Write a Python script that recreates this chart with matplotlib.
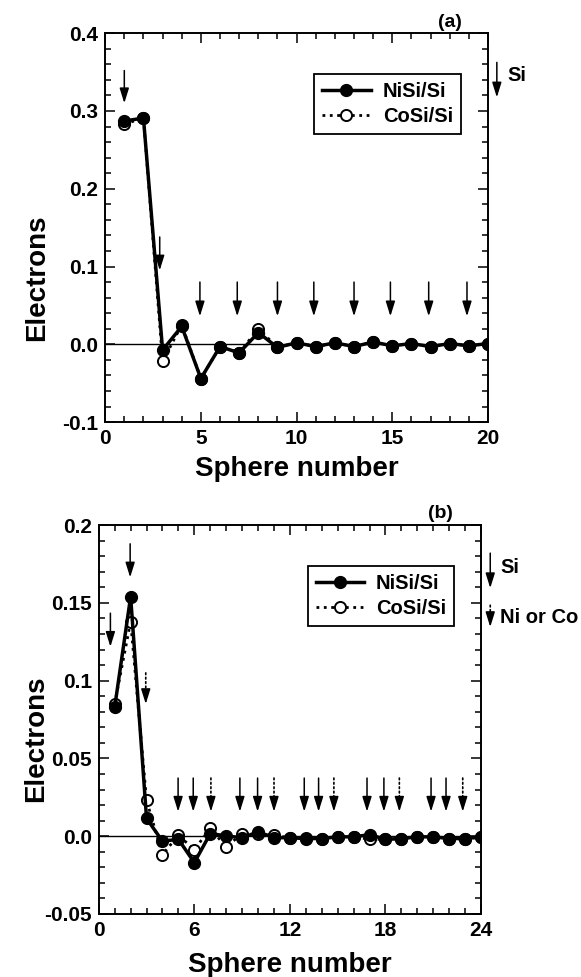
# Перераспределение заряда по сферам: NiSi/Si и CoSi/Si
# Две панели (a) и (b), сохраняется в out.png

import matplotlib
matplotlib.use("Agg")
import matplotlib.pyplot as plt
from matplotlib.ticker import MultipleLocator, FuncFormatter

plt.rcParams["font.family"] = ["Liberation Sans", "DejaVu Sans"]
plt.rcParams["font.weight"] = "bold"
plt.rcParams["axes.labelweight"] = "bold"

# ---------- данные, панель (a) ----------
sphere_a = list(range(1, 21))
nisi_a = [0.287, 0.291, -0.0074, 0.023, -0.044, -0.003, -0.011, 0.015, -0.004, 0.002,
          -0.003, 0.002, -0.003, 0.003, -0.002, 0.001, -0.003, 0.001, -0.002, 0.001]
cosi_a = [0.283, 0.291, -0.022, 0.025, -0.044, -0.003, -0.011, 0.020, -0.004, 0.002,
          -0.003, 0.002, -0.003, 0.003, -0.002, 0.001, -0.003, 0.001, -0.002, 0.001]

# стрелки Si (панель a)
arrow_a_x = [1.0, 2.85, 4.95, 6.9, 9.0, 10.9, 13.0, 14.9, 16.9, 18.9]
arrow_a_top = [0.352, 0.138, 0.080, 0.080, 0.080, 0.080, 0.080, 0.080, 0.080, 0.080]
arrow_a_bot = [0.310, 0.095, 0.036, 0.036, 0.036, 0.036, 0.036, 0.036, 0.036, 0.036]

# ---------- данные, панель (b) ----------
sphere_b = list(range(1, 25))
nisi_b = [0.083, 0.154, 0.0114, -0.0032, -0.002, -0.017, 0.0017, 0.0002, -0.001, 0.0028,
          -0.0009, -0.001, -0.0015, -0.0015, -0.0004, -0.0004, 0.001, -0.002, -0.0015,
          -0.0004, -0.0004, -0.0015, -0.0015, -0.0004]
cosi_b = [0.085, 0.138, 0.023, -0.0118, 0.0006, -0.0086, 0.005, -0.0069, 0.0017, 0.0017,
          0.0006, -0.001, -0.001, -0.0015, -0.0004, -0.0004, -0.002, -0.002, -0.0015,
          -0.0004, -0.0004, -0.0015, -0.002, -0.0004]

# стрелки Si (сплошные) и Ni/Co (пунктир), панель b
si_b_x = [0.73, 1.97, 4.98, 5.93, 8.86, 9.97, 12.9, 13.8, 16.84, 17.9, 20.86, 21.8]
si_b_top = [0.1434, 0.188] + [0.0374] * 10
si_b_bot = [0.1218, 0.1664] + [0.0158] * 10
metal_b_x = [2.95, 7.04, 11.0, 14.76, 18.87, 22.85]
metal_b_top = [0.105] + [0.0374] * 5
metal_b_bot = [0.085] + [0.0158] * 5

labels = ["NiSi/Si", "CoSi/Si"]

HEAD_STYLE = "-|>,head_length=0.45,head_width=0.14"
HEAD_PT = 9.0  # 0.45 * mutation_scale


def arrow(ax, x, y0, y1, ls="-", coords="data"):
    if ls == "-":
        ax.annotate("", xy=(x, y1), xytext=(x, y0), xycoords=coords, textcoords=coords,
                    annotation_clip=False,
                    arrowprops=dict(arrowstyle=HEAD_STYLE, mutation_scale=20, color="black",
                                    lw=1.1, shrinkA=0, shrinkB=0))
        return
    # пунктирный стержень + сплошной наконечник
    ax.annotate("", xy=(x, y1), xytext=(x, y0), xycoords=coords, textcoords=coords,
                annotation_clip=False,
                arrowprops=dict(arrowstyle="-", color="black", lw=1.2, linestyle=":",
                                shrinkA=0, shrinkB=HEAD_PT - 1))
    ax.annotate("", xy=(x, y1), xytext=(0, HEAD_PT + 0.5), xycoords=coords,
                textcoords="offset points", annotation_clip=False,
                arrowprops=dict(arrowstyle=HEAD_STYLE, mutation_scale=20, color="black",
                                lw=1.1, shrinkA=0, shrinkB=0))


def style_axes(ax):
    for sp in ax.spines.values():
        sp.set_linewidth(1.4)
    ax.tick_params(which="both", direction="in", top=True, right=True,
                   labelsize=15, width=1.1, pad=5)
    ax.tick_params(which="major", length=7)
    ax.tick_params(which="minor", length=4)
    ax.axhline(0, color="black", lw=1.0, zorder=1)


def draw_series(ax, x, ni, co):
    ax.plot(x, co, linestyle=":", color="black", lw=2.0, marker="o", ms=8,
            mfc="white", mec="black", mew=1.4, zorder=2, label=labels[1])
    ax.plot(x, ni, linestyle="-", color="black", lw=2.5, marker="o", ms=8.5,
            mfc="black", mec="black", zorder=3, label=labels[0])
    h, l = ax.get_legend_handles_labels()
    leg = ax.legend(h[::-1], l[::-1], loc="upper left", bbox_to_anchor=(0.546, 0.895),
                    borderaxespad=0, fontsize=14.5, handlelength=2.4, numpoints=1,
                    fancybox=False, edgecolor="black", framealpha=1,
                    labelspacing=0.3, borderpad=0.4, handletextpad=0.6)
    leg.get_frame().set_linewidth(1.3)


fig = plt.figure(figsize=(5.81, 9.77), dpi=100)

# ---------- панель (a) ----------
ax_a = fig.add_axes([0.181, 0.568, 0.659, 0.398])
draw_series(ax_a, sphere_a, nisi_a, cosi_a)
ax_a.set_xlim(0, 20)
ax_a.set_ylim(-0.1, 0.4)
ax_a.xaxis.set_major_locator(MultipleLocator(5))
ax_a.xaxis.set_minor_locator(MultipleLocator(1))
ax_a.yaxis.set_major_locator(MultipleLocator(0.1))
ax_a.yaxis.set_minor_locator(MultipleLocator(0.02))
ax_a.yaxis.set_major_formatter(FuncFormatter(lambda v, p: f"{v:.1f}"))
style_axes(ax_a)
for x, y0, y1 in zip(arrow_a_x, arrow_a_top, arrow_a_bot):
    arrow(ax_a, x, y0, y1)
ax_a.set_xlabel("Sphere number", fontsize=20, labelpad=6)
ax_a.set_ylabel("Electrons", fontsize=20)
ax_a.yaxis.set_label_coords(-0.145, 0.37)
ax_a.text(0.90, 1.028, "(a)", transform=ax_a.transAxes, ha="center", va="center", fontsize=14)
arrow(ax_a, 1.023, 0.925, 0.835, coords="axes fraction")
ax_a.text(1.05, 0.892, "Si", transform=ax_a.transAxes, ha="left", va="center", fontsize=14.5)

# ---------- панель (b) ----------
ax_b = fig.add_axes([0.170, 0.0645, 0.658, 0.398])
draw_series(ax_b, sphere_b, nisi_b, cosi_b)
ax_b.set_xlim(0, 24)
ax_b.set_ylim(-0.05, 0.2)
ax_b.xaxis.set_major_locator(MultipleLocator(6))
ax_b.xaxis.set_minor_locator(MultipleLocator(1))
ax_b.yaxis.set_major_locator(MultipleLocator(0.05))
ax_b.yaxis.set_minor_locator(MultipleLocator(0.01))


def fmt_b(v, pos):
    s = f"{v:.2f}"
    if s.endswith("0"):
        s = s[:-1]
    if s == "-0.0":
        s = "0.0"
    return s


ax_b.yaxis.set_major_formatter(FuncFormatter(fmt_b))
style_axes(ax_b)
for x, y0, y1 in zip(si_b_x, si_b_top, si_b_bot):
    arrow(ax_b, x, y0, y1)
for x, y0, y1 in zip(metal_b_x, metal_b_top, metal_b_bot):
    arrow(ax_b, x, y0, y1, ls=":")
ax_b.set_xlabel("Sphere number", fontsize=20, labelpad=9)
ax_b.set_ylabel("Electrons", fontsize=20)
ax_b.yaxis.set_label_coords(-0.13, 0.45)
ax_b.text(0.893, 1.031, "(b)", transform=ax_b.transAxes, ha="center", va="center", fontsize=14)
arrow(ax_b, 1.024, 0.928, 0.838, coords="axes fraction")
ax_b.text(1.05, 0.892, "Si", transform=ax_b.transAxes, ha="left", va="center", fontsize=14.5)
arrow(ax_b, 1.024, 0.794, 0.738, ls=":", coords="axes fraction")
ax_b.text(1.05, 0.763, "Ni or Co", transform=ax_b.transAxes, ha="left", va="center", fontsize=14.5)

fig.savefig("out.png", dpi=100)
plt.close(fig)
